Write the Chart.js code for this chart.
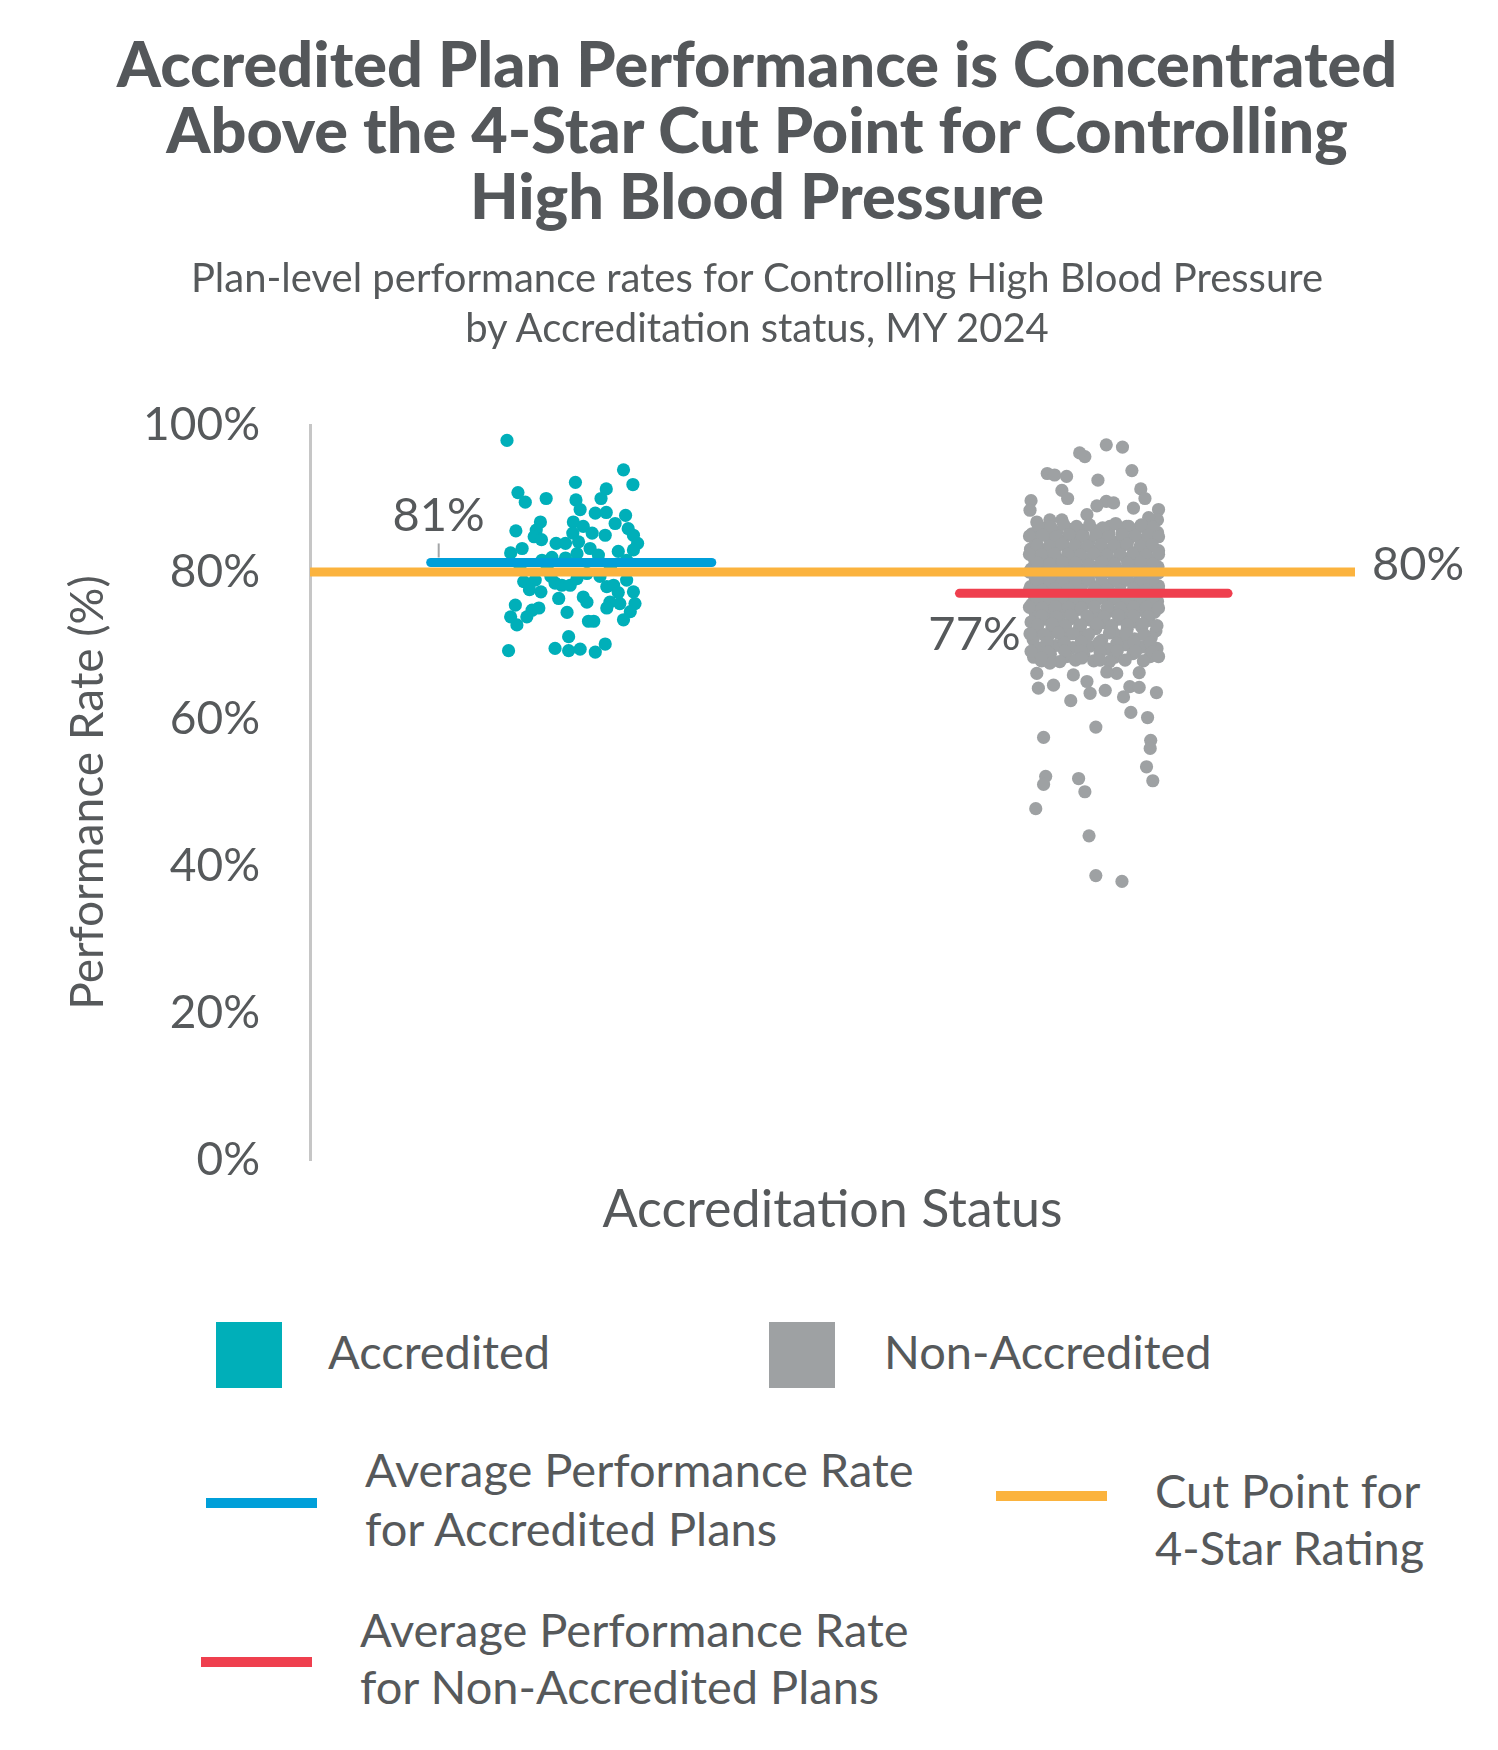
<!DOCTYPE html>
<html lang="en">
<head>
    <meta charset="UTF-8">
    <title>Controlling High Blood Pressure by Accreditation Status</title>
    <script src="https://cdn.jsdelivr.net/npm/chart.js"></script>
    <style>
        body {
            margin: 0;
            background: #ffffff;
            font-family: Lato, "Open Sans", sans-serif;
            color: #56595b;
        }
        .page {
            position: relative;
            width: 1498px;
            height: 1750px;
            overflow: hidden;
        }
        #chart {
            position: absolute;
            left: 0;
            top: 0;
        }
        .title {
            position: absolute;
            left: 8px;
            top: 30px;
            width: 1498px;
            text-align: center;
            font-weight: 900;
            font-size: 63px;
            line-height: 66px;
            color: #54575a;
        }
        .subtitle {
            position: absolute;
            left: 8px;
            top: 252px;
            width: 1498px;
            text-align: center;
            font-size: 40px;
            line-height: 50px;
        }
        .legend-text {
            position: absolute;
            font-size: 47px;
            white-space: nowrap;
        }
        .swatch {
            position: absolute;
            width: 66px;
            height: 66px;
        }
        .bar {
            position: absolute;
            height: 10px;
        }
    </style>
</head>
<body>
<div class="page">
    <canvas id="chart" width="1498" height="1260"></canvas>

    <div class="title">Accredited Plan Performance is Concentrated<br>Above the 4-Star Cut Point for Controlling<br>High Blood Pressure</div>
    <div class="subtitle">Plan-level performance rates for Controlling High Blood Pressure<br>by Accreditation status, MY 2024</div>

    <!-- legend -->
    <div class="swatch" style="left:216px; top:1322px; background:#00afb9;"></div>
    <div class="legend-text" style="left:328px; top:1323px; line-height:57px;">Accredited</div>
    <div class="swatch" style="left:769px; top:1322px; background:#9ea1a3;"></div>
    <div class="legend-text" style="left:884px; top:1323px; line-height:57px;">Non-Accredited</div>

    <div class="bar" style="left:206px; top:1498px; width:111px; background:#009fd9;"></div>
    <div class="legend-text" style="left:365px; top:1440px; line-height:59px;">Average Performance Rate<br>for Accredited Plans</div>

    <div class="bar" style="left:996px; top:1491px; width:111px; background:#fbb33e;"></div>
    <div class="legend-text" style="left:1155px; top:1462px; line-height:57px;">Cut Point for<br>4-Star Rating</div>

    <div class="bar" style="left:201px; top:1657px; width:111px; background:#ef3f4e;"></div>
    <div class="legend-text" style="left:360px; top:1601px; line-height:57px;">Average Performance Rate<br>for Non-Accredited Plans</div>
</div>

<script>
    // category centres on the x scale (0..2)
    const groups = ['Accredited', 'Non-Accredited'];
    const groupCenter = [0.5, 1.5];

    // plan rates, Accredited: jitter offset and rate (%)
    const accJitter = [
        -0.123, 0.008, 0.100, 0.118, -0.102, -0.088, -0.048, 0.009, 0.017, 0.067,
        0.057, 0.046, 0.067, 0.104, -0.059, -0.067, -0.106, 0.004, 0.023, 0.003,
        0.040, 0.084, 0.109, 0.119, 0.065, -0.071, -0.057, -0.029, -0.011, 0.014,
        0.127, -0.094, -0.116, 0.036, 0.090, 0.119, 0.011, 0.052, -0.037, -0.056,
        -0.011, -0.091, -0.069, -0.080, -0.058, -0.039, -0.031, -0.018, -0.002, -0.024,
        0.023, 0.030, 0.055, 0.068, 0.081, 0.106, 0.119, 0.090, 0.074, 0.093,
        0.122, 0.068, 0.113, 0.100, -0.107, -0.116, -0.104, -0.085, -0.075, -0.062,
        -0.008, 0.033, 0.043, -0.120, -0.031, -0.005, -0.005, 0.017, 0.046, 0.065,
        -0.046, 0.030, 0.106, 0.011, -0.098, 0.075
    ];
    const accRate = [
        97.9, 92.2, 93.9, 91.9, 90.8, 89.5, 90.0, 89.8, 88.5, 91.3,
        90.0, 88.0, 88.1, 87.7, 86.8, 85.7, 85.6, 86.8, 86.2, 85.3,
        85.3, 86.6, 85.9, 85.0, 85.0, 84.8, 84.4, 83.9, 83.9, 84.1,
        83.9, 83.2, 82.6, 83.2, 82.8, 83.0, 82.5, 82.3, 82.0, 81.6,
        81.9, 78.7, 78.9, 77.6, 77.3, 79.4, 78.5, 78.2, 78.2, 76.4,
        76.6, 75.9, 79.4, 78.0, 78.2, 78.9, 77.3, 77.2, 75.9, 75.7,
        75.7, 75.1, 74.6, 73.5, 75.5, 73.9, 72.8, 73.9, 74.8, 75.1,
        74.5, 73.3, 73.3, 69.3, 69.6, 71.2, 69.3, 69.5, 69.1, 70.2,
        80.5, 79.8, 81.6, 79.1, 80.4, 80.6
    ];

    // plan rates, Non-Accredited: jitter offset and rate (%)
    const nonJitter = [
        // upper tail
        0.024, 0.055, -0.017, -0.027, 0.073, -0.089, -0.075, -0.052, 0.008, -0.061,
        -0.050, 0.090, 0.098, -0.120, 0.124, 0.024, 0.006, 0.038, 0.076, -0.122,
        -0.084, -0.061, -0.013, 0.122, 0.105, -0.109, -0.026, 0.031, 0.063, 0.089,
        // main body
        -0.118, -0.094, -0.071, -0.046, -0.021, 0.004, 0.029, 0.054, 0.079, 0.103, 0.122,
        -0.111, -0.085, -0.059, -0.034, -0.009, 0.017, 0.042, 0.066, 0.091, 0.116,
        -0.121, -0.097, -0.073, -0.049, -0.024, 0.001, 0.027, 0.052, 0.077, 0.101, 0.124,
        -0.113, -0.088, -0.063, -0.037, -0.012, 0.013, 0.038, 0.063, 0.088, 0.113,
        -0.120, -0.096, -0.072, -0.047, -0.023, 0.002, 0.026, 0.051, 0.076, 0.100, 0.123,
        -0.112, -0.086, -0.061, -0.036, -0.011, 0.014, 0.039, 0.064, 0.089, 0.114,
        -0.121, -0.097, -0.071, -0.048, -0.022, 0.003, 0.028, 0.053, 0.078, 0.102, 0.124,
        -0.114, -0.087, -0.062, -0.038, -0.013, 0.012, 0.037, 0.062, 0.087, 0.112,
        -0.119, -0.095, -0.070, -0.046, -0.021, 0.004, 0.029, 0.054, 0.079, 0.103, 0.122,
        -0.112, -0.084, -0.058, -0.030, 0.006, 0.033, 0.061, 0.090, 0.116,
        -0.120, -0.093, -0.066, -0.041, -0.008, 0.020, 0.048, 0.079, 0.105,
        -0.109, -0.080, -0.054, -0.027, 0.004, 0.036, 0.064, 0.092, 0.119,
        -0.116, -0.088, -0.057, -0.020, 0.015, 0.047, 0.078, 0.110,
        -0.104, -0.073, -0.040, -0.008, 0.027, 0.060, 0.092, 0.121,
        -0.115, -0.083, -0.052, -0.019, 0.040, 0.075, 0.108,
        // main body, in-between plans
        -0.106, -0.082, -0.058, -0.033, -0.008, 0.017, 0.042, 0.067, 0.091, 0.113,
        -0.123, -0.098, -0.072, -0.047, -0.022, 0.004, 0.029, 0.054, 0.079, 0.104, 0.124,
        -0.108, -0.085, -0.061, -0.036, -0.012, 0.014, 0.039, 0.064, 0.089, 0.112,
        -0.123, -0.100, -0.075, -0.050, -0.025, 0.000, 0.025, 0.050, 0.075, 0.100, 0.124,
        -0.108, -0.084, -0.060, -0.035, -0.010, 0.015, 0.040, 0.065, 0.090, 0.113,
        -0.123, -0.099, -0.074, -0.049, -0.024, 0.001, 0.026, 0.051, 0.076, 0.101, 0.124,
        -0.108, -0.084, -0.060, -0.035, -0.010, 0.015, 0.040, 0.065, 0.090, 0.113,
        -0.123, -0.099, -0.074, -0.049, -0.024, 0.001, 0.026, 0.051, 0.076, 0.101, 0.124,
        -0.108, -0.084, -0.060, -0.035, -0.010, 0.015, 0.040, 0.065, 0.090, 0.113,
        -0.123, -0.099, -0.074, -0.049, -0.024, 0.001, 0.026, 0.051, 0.076, 0.101, 0.124,
        -0.100, -0.072, -0.044, -0.013, 0.020, 0.047, 0.076, 0.103,
        -0.107, -0.080, -0.054, -0.025, 0.006, 0.034, 0.064, 0.093, 0.121,
        -0.122, -0.095, -0.068, -0.040, -0.010, 0.030, 0.062, 0.096,
        -0.090, -0.056, -0.024, 0.010, 0.044, 0.077, 0.108,
        -0.120, -0.088, -0.056, -0.024, 0.012, 0.045, 0.080, 0.112,
        -0.100, -0.065, -0.035, 0.000, 0.030, 0.060, 0.095,
        // lower tail
        -0.109, -0.106, -0.077, -0.039, -0.013, -0.007, 0.022, 0.057, 0.069, 0.087,
        0.087, 0.124, 0.044, 0.012, -0.084, -0.023, -0.100, 0.025,
        -0.096, 0.004, 0.071, 0.103, 0.120, -0.044, 0.109, 0.108, 0.101, 0.113,
        -0.092, -0.096, -0.029, -0.017, -0.111, -0.009, 0.004, 0.054
    ];
    const nonRate = [
        97.3, 97.0, 95.7, 96.2, 93.8, 93.4, 93.2, 93.0, 92.5, 91.1,
        90.0, 91.3, 90.0, 89.7, 88.5, 89.6, 89.0, 89.4, 88.7, 88.4,
        87.1, 87.1, 87.8, 87.1, 87.4, 86.8, 85.7, 86.2, 86.2, 86.2,
        85.2, 85.9, 85.4, 85.8, 85.1, 85.6, 85.3, 85.9, 85.0, 85.7, 85.4,
        84.0, 84.6, 84.2, 84.5, 84.1, 84.7, 84.0, 84.4, 84.3, 84.6,
        83.1, 82.7, 83.3, 82.9, 83.2, 82.8, 83.0, 83.4, 82.6, 83.1, 82.9,
        81.6, 82.0, 81.5, 81.9, 81.7, 82.1, 81.4, 81.8, 82.0, 81.6,
        80.4, 80.8, 80.5, 80.9, 80.3, 80.7, 80.6, 80.2, 80.8, 80.4, 80.7,
        79.2, 79.6, 79.3, 79.7, 79.1, 79.5, 79.4, 79.8, 79.2, 79.5,
        78.0, 78.4, 78.1, 78.5, 78.3, 77.9, 78.2, 78.6, 78.0, 78.3, 78.1,
        76.8, 77.2, 76.9, 77.3, 76.7, 77.1, 77.0, 76.8, 77.2, 76.9,
        75.6, 76.0, 75.7, 75.9, 75.5, 76.1, 75.8, 75.6, 75.9, 75.7, 76.0,
        74.4, 74.8, 74.5, 74.9, 74.3, 74.7, 74.4, 74.8, 74.5,
        73.2, 73.6, 73.3, 73.7, 73.5, 73.1, 73.6, 73.2, 73.4,
        72.0, 72.4, 72.1, 72.5, 72.3, 71.9, 72.2, 72.5, 72.0,
        70.8, 71.2, 70.9, 71.1, 70.7, 71.3, 70.9, 71.1,
        69.6, 70.0, 69.7, 69.9, 69.5, 70.1, 69.8, 69.6,
        68.4, 68.8, 68.5, 68.7, 68.4, 68.9, 68.5,
        86.3, 86.1, 86.5, 86.2, 86.4, 86.0, 86.6, 86.2, 86.4, 86.1,
        84.9, 85.0, 84.8, 85.1, 84.9, 85.0, 84.8, 85.1, 84.9, 85.0, 84.8,
        83.7, 83.5, 83.8, 83.6, 83.5, 83.7, 83.6, 83.8, 83.5, 83.7,
        82.4, 82.3, 82.5, 82.4, 82.3, 82.5, 82.3, 82.4, 82.5, 82.3, 82.4,
        81.2, 81.1, 81.3, 81.2, 81.0, 81.3, 81.1, 81.2, 81.3, 81.1,
        80.0, 79.9, 80.1, 80.0, 79.9, 80.1, 80.0, 79.9, 80.1, 80.0, 79.9,
        78.8, 78.9, 78.7, 78.8, 78.9, 78.7, 78.8, 78.9, 78.7, 78.8,
        77.6, 77.5, 77.7, 77.6, 77.5, 77.7, 77.6, 77.5, 77.7, 77.6, 77.5,
        76.4, 76.3, 76.5, 76.4, 76.3, 76.5, 76.4, 76.3, 76.5, 76.4,
        75.2, 75.1, 75.3, 75.2, 75.1, 75.3, 75.2, 75.1, 75.3, 75.2, 75.1,
        74.0, 73.9, 74.1, 74.0, 73.9, 74.1, 74.0, 73.9,
        72.8, 72.9, 72.7, 72.8, 72.9, 72.7, 72.8, 72.9, 72.7,
        71.6, 71.5, 71.7, 71.6, 71.5, 71.7, 71.6, 71.5,
        70.4, 70.3, 70.5, 70.4, 70.3, 70.5, 70.4,
        69.2, 69.1, 69.3, 69.2, 69.1, 69.3, 69.2, 69.1,
        67.9, 67.8, 68.0, 67.9, 67.8, 68.0, 67.9,
        66.2, 64.2, 64.6, 66.0, 65.1, 63.5, 63.9, 63.0, 64.4, 64.3,
        66.3, 68.5, 66.2, 68.0, 67.6, 68.3, 68.3, 66.4,
        57.5, 58.9, 60.9, 60.2, 63.6, 62.5, 57.1, 56.0, 53.5, 51.6,
        52.2, 51.1, 51.9, 50.1, 47.8, 44.1, 38.7, 37.9
    ];

    // reference lines
    const avgAccredited = 81.3;
    const avgNonAccredited = 77.1;
    const cutPoint = 80;
    const avgHalfWidth = [0.269, 0.257];
    const yTicks = [0, 20, 40, 60, 80, 100];

    const TEXT = '#56595b';

    const accPoints = accJitter.map((j, i) => ({ x: groupCenter[0] + j, y: accRate[i] }));
    const nonPoints = nonJitter.map((j, i) => ({ x: groupCenter[1] + j, y: nonRate[i] }));

    const valueLabels = {
        id: 'valueLabels',
        afterDatasetsDraw(chart) {
            const { ctx, scales: { x, y } } = chart;
            ctx.save();
            ctx.fillStyle = TEXT;
            ctx.font = '47px Lato, sans-serif';
            ctx.textBaseline = 'middle';

            // 81% with its little leader
            const ax = x.getPixelForValue(groupCenter[0] - avgHalfWidth[0]) + 8;
            const ay = y.getPixelForValue(avgAccredited);
            ctx.textAlign = 'center';
            ctx.fillText('81%', ax, ay - 47);
            ctx.strokeStyle = '#a3a5a7';
            ctx.lineWidth = 2;
            ctx.beginPath();
            ctx.moveTo(ax, ay - 19);
            ctx.lineTo(ax, ay - 5);
            ctx.stroke();

            // 77%
            const nx = x.getPixelForValue(groupCenter[1] - avgHalfWidth[1]) + 15;
            const ny = y.getPixelForValue(avgNonAccredited);
            ctx.fillText('77%', nx, ny + 42);

            // 80% at the end of the cut point line
            ctx.textAlign = 'left';
            ctx.fillText('80%', x.getPixelForValue(2) + 17, y.getPixelForValue(cutPoint) - 7);
            ctx.restore();
        }
    };

    new Chart(document.getElementById('chart'), {
        data: {
            datasets: [
                {
                    type: 'line',
                    label: 'Cut Point for 4-Star Rating',
                    data: [{ x: 0, y: cutPoint }, { x: 2, y: cutPoint }],
                    borderColor: '#fbb33e',
                    borderWidth: 9,
                    borderCapStyle: 'butt',
                    pointRadius: 0,
                    order: 0
                },
                {
                    type: 'line',
                    label: 'Average Performance Rate for Accredited Plans',
                    data: [
                        { x: groupCenter[0] - avgHalfWidth[0], y: avgAccredited },
                        { x: groupCenter[0] + avgHalfWidth[0], y: avgAccredited }
                    ],
                    borderColor: '#009fd9',
                    borderWidth: 9,
                    borderCapStyle: 'round',
                    pointRadius: 0,
                    order: 1
                },
                {
                    type: 'line',
                    label: 'Average Performance Rate for Non-Accredited Plans',
                    data: [
                        { x: groupCenter[1] - avgHalfWidth[1], y: avgNonAccredited },
                        { x: groupCenter[1] + avgHalfWidth[1], y: avgNonAccredited }
                    ],
                    borderColor: '#ef3f4e',
                    borderWidth: 9,
                    borderCapStyle: 'round',
                    pointRadius: 0,
                    order: 1
                },
                {
                    type: 'scatter',
                    label: groups[0],
                    data: accPoints,
                    backgroundColor: '#00afb9',
                    borderWidth: 0,
                    pointRadius: 6.6,
                    order: 2
                },
                {
                    type: 'scatter',
                    label: groups[1],
                    data: nonPoints,
                    backgroundColor: '#9ea1a3',
                    borderWidth: 0,
                    pointRadius: 6.6,
                    order: 3
                }
            ]
        },
        options: {
            responsive: false,
            animation: false,
            layout: { padding: { top: 425, right: 143, left: 0, bottom: 0 } },
            plugins: {
                legend: { display: false },
                tooltip: { enabled: false }
            },
            scales: {
                x: {
                    type: 'linear',
                    min: 0,
                    max: 2,
                    ticks: { display: false },
                    grid: { display: false, drawTicks: false },
                    border: { display: false },
                    title: {
                        display: true,
                        text: 'Accreditation Status',
                        color: TEXT,
                        font: { family: 'Lato', size: 52 },
                        padding: { top: 0, bottom: 19 }
                    },
                    afterFit(scale) { scale.height = 100; }
                },
                y: {
                    min: 0,
                    max: 100,
                    afterBuildTicks(scale) { scale.ticks = yTicks.map(v => ({ value: v })); },
                    ticks: {
                        callback: v => v + '%',
                        color: TEXT,
                        font: { family: 'Lato', size: 46 },
                        padding: 50
                    },
                    grid: { display: false, drawTicks: false },
                    border: { display: true, color: '#c6c6c6', width: 3 },
                    title: {
                        display: true,
                        text: 'Performance Rate (%)',
                        color: TEXT,
                        font: { family: 'Lato', size: 46 },
                        padding: { top: 61, bottom: 0 }
                    },
                    afterFit(scale) { scale.width = 310; }
                }
            }
        },
        plugins: [valueLabels]
    });
</script>
</body>
</html>
